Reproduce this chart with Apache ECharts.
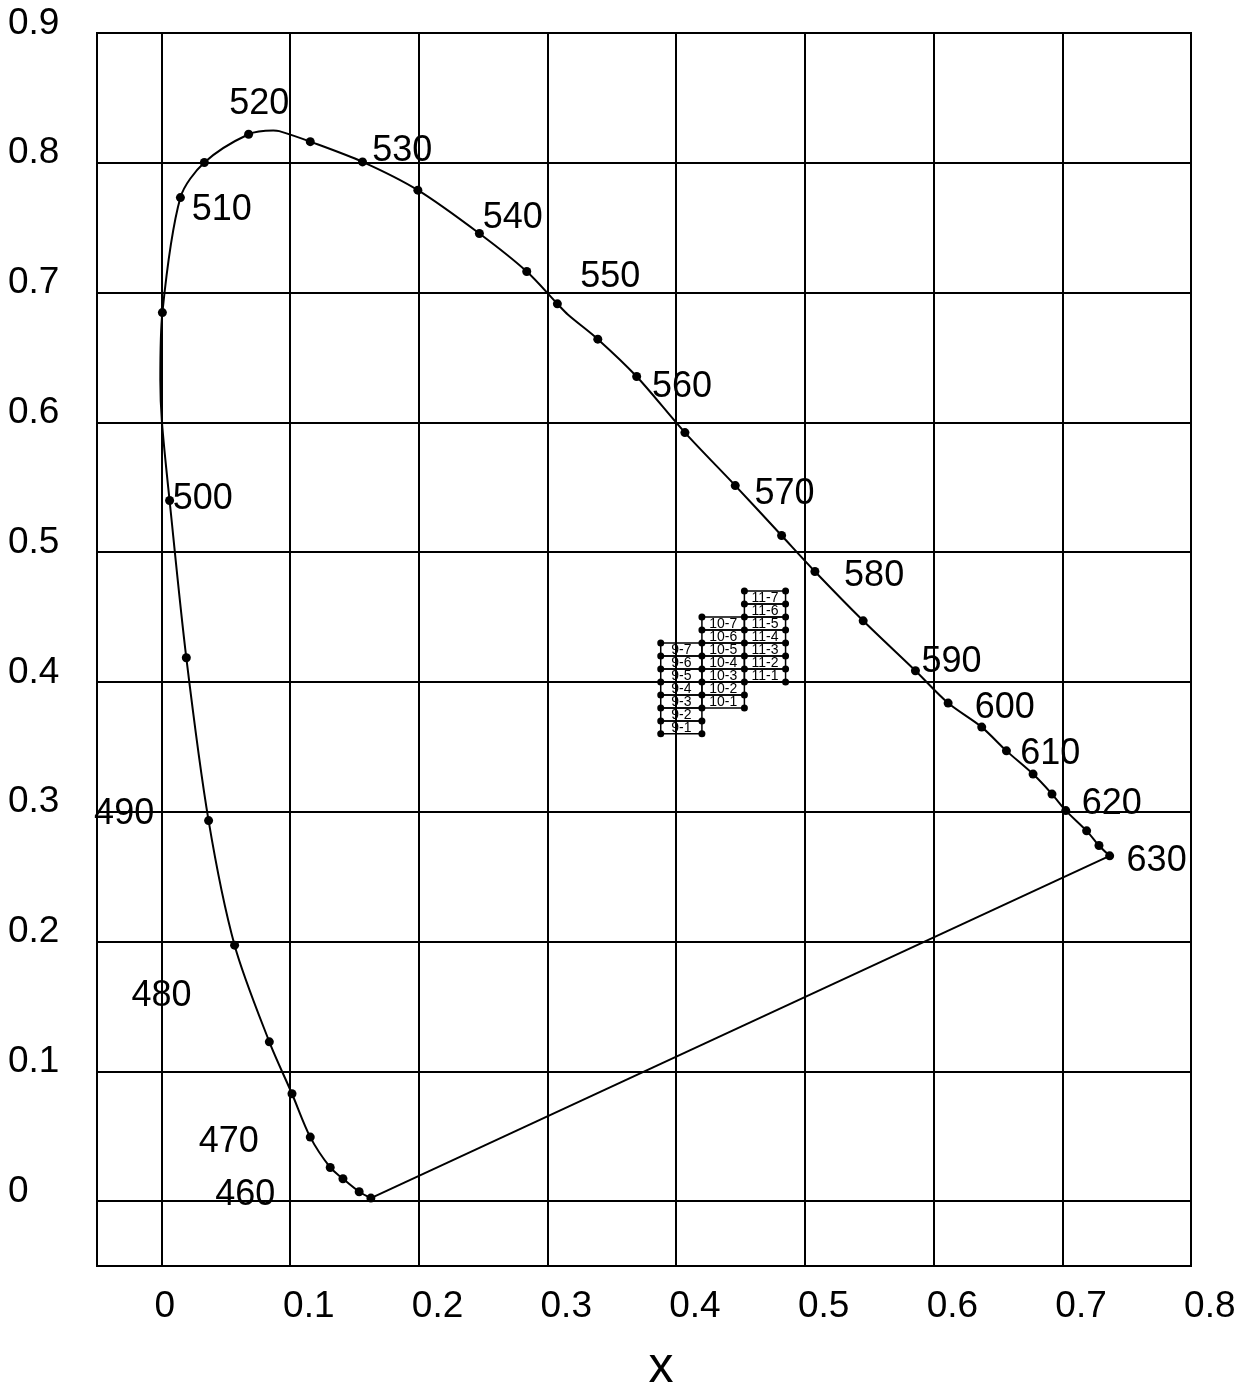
<!DOCTYPE html>
<html><head><meta charset="utf-8">
<script src="https://cdn.jsdelivr.net/npm/echarts@6/dist/echarts.min.js"></script>
<style>html,body{margin:0;padding:0;background:#fff}#c{width:1252px;height:1387px}</style>
</head><body><div id="c"></div>
<script>
// Tick labels
const xTickValues = [0, 0.1, 0.2, 0.3, 0.4, 0.5, 0.6, 0.7, 0.8];
const yTickValues = [0, 0.1, 0.2, 0.3, 0.4, 0.5, 0.6, 0.7, 0.8, 0.9];

// Spectral locus marker dots (x, y)
const dotX = [0.1628,0.1537,0.1411,0.1312,0.1157,0.1015,0.0839,0.0569,0.0367,0.0194,0.0064,0.0008,0.0148,0.0334,0.0678,0.1157,0.1563,0.1993,0.2471,0.2839,0.3077,0.3391,0.3693,0.4068,0.4459,0.4819,0.5078,0.5453,0.5859,0.6113,0.6374,0.6566,0.6773,0.6920,0.7027,0.7189,0.7285,0.7368];
const dotY = [0.0023,0.0072,0.0172,0.0259,0.0493,0.0827,0.1227,0.1972,0.2932,0.4186,0.5398,0.6846,0.7732,0.8002,0.8220,0.8163,0.8007,0.7789,0.7455,0.7162,0.6913,0.6641,0.6353,0.5921,0.5513,0.5128,0.4851,0.4471,0.4086,0.3837,0.3652,0.3469,0.3290,0.3136,0.3009,0.2853,0.2740,0.2660];

// Locus curve path (dots plus a few extra points)
const curveX = [0.1628,0.1537,0.1411,0.1312,0.1157,0.1015,0.0839,0.0569,0.0367,0.0194,0.0064,0.0005,-0.0008,0.0008,0.0148,0.0334,0.0678,0.0870,0.0916,0.1157,0.1563,0.1993,0.2471,0.2839,0.3077,0.3160,0.3391,0.3693,0.4068,0.4459,0.4819,0.5078,0.5453,0.5859,0.6113,0.6374,0.6566,0.6773,0.6920,0.7027,0.7189,0.7285,0.7368];
const curveY = [0.0023,0.0072,0.0172,0.0259,0.0493,0.0827,0.1227,0.1972,0.2932,0.4186,0.5398,0.5996,0.6327,0.6846,0.7732,0.8002,0.8220,0.8249,0.8244,0.8163,0.8007,0.7789,0.7455,0.7162,0.6913,0.6829,0.6641,0.6353,0.5921,0.5513,0.5128,0.4851,0.4471,0.4086,0.3837,0.3652,0.3469,0.3290,0.3136,0.3009,0.2853,0.2740,0.2660];

// Purple line (630 -> 460)
const closeX = [0.7368, 0.1628];
const closeY = [0.2660, 0.0023];

// Wavelength annotations
const wlText = ['460','470','480','490','500','510','520','530','540','550','560','570','580','590','600','610','620','630'];
const wlX = [0.0652,0.0523,0.0002,-0.0289,0.0322,0.0470,0.0761,0.1871,0.2731,0.3488,0.4045,0.4841,0.5538,0.6139,0.6553,0.6906,0.7384,0.7733];
const wlY = [0.0064,0.0468,0.1596,0.2995,0.5422,0.7653,0.8468,0.8109,0.7593,0.7135,0.6287,0.5462,0.4831,0.4166,0.3816,0.3458,0.3075,0.2639];

// Bins
const binNames = ['9-1','9-2','9-3','9-4','9-5','9-6','9-7','10-1','10-2','10-3','10-4','10-5','10-6','10-7','11-1','11-2','11-3','11-4','11-5','11-6','11-7'];
const binX0 = [0.388,0.388,0.388,0.388,0.388,0.388,0.388,0.420,0.420,0.420,0.420,0.420,0.420,0.420,0.453,0.453,0.453,0.453,0.453,0.453,0.453];
const binX1 = [0.420,0.420,0.420,0.420,0.420,0.420,0.420,0.453,0.453,0.453,0.453,0.453,0.453,0.453,0.485,0.485,0.485,0.485,0.485,0.485,0.485];
const binY0 = [0.36,0.37,0.38,0.39,0.40,0.41,0.42,0.38,0.39,0.40,0.41,0.42,0.43,0.44,0.40,0.41,0.42,0.43,0.44,0.45,0.46];
const binY1 = [0.37,0.38,0.39,0.40,0.41,0.42,0.43,0.39,0.40,0.41,0.42,0.43,0.44,0.45,0.41,0.42,0.43,0.44,0.45,0.46,0.47];

const FONT = '"Liberation Sans", Arial, sans-serif';
const fmtTick = v => {
  const r = Math.round(v * 10);
  if (Math.abs(v * 10 - r) > 1e-6 || r < 0) return '';
  return r === 0 ? '0' : (r / 10).toFixed(1);
};

const corners = [];
const seen = {};
binNames.forEach((n, i) => {
  [[binX0[i], binY0[i]], [binX0[i], binY1[i]], [binX1[i], binY0[i]], [binX1[i], binY1[i]]].forEach(p => {
    const k = p[0].toFixed(4) + ',' + p[1].toFixed(4);
    if (!seen[k]) { seen[k] = 1; corners.push(p); }
  });
});

const chart = echarts.init(document.getElementById('c'), null, {renderer: 'canvas'});
chart.setOption({
  animation: false,
  backgroundColor: '#fff',
  grid: {left: 97, right: 61, top: 33, bottom: 121, outerBoundsMode: 'none', containLabel: false,
         show: true, borderColor: '#000', borderWidth: 2, backgroundColor: 'transparent'},
  xAxis: [{
    type: 'value', min: -0.05, max: 0.8, interval: 0.05,
    axisLine: {show: false}, axisTick: {show: false}, axisLabel: {show: false},
    splitLine: {show: true, lineStyle: {color: ['rgba(0,0,0,0)', '#000'], width: 2}},
    name: 'x', nameLocation: 'middle', nameGap: 77,
    nameTextStyle: {fontSize: 50, fontFamily: FONT, color: '#000', padding: [0, 0, 0, 34]}
  }, {
    type: 'value', min: -0.05 + 0.0054, max: 0.8 + 0.0054, position: 'bottom',
    axisLine: {show: false}, axisTick: {show: false}, splitLine: {show: false},
    axisLabel: {customValues: xTickValues, align: 'left', margin: 22, fontSize: 37, fontFamily: FONT, color: '#000', formatter: fmtTick}
  }],
  yAxis: {
    type: 'value', min: -0.05, max: 0.9, interval: 0.05,
    axisLine: {show: false}, axisTick: {show: false},
    splitLine: {show: true, lineStyle: {color: ['rgba(0,0,0,0)', '#000'], width: 2}},
    axisLabel: {align: 'left', margin: 89, fontSize: 37, fontFamily: FONT, color: '#000', verticalAlign: 'bottom', lineHeight: 19, formatter: fmtTick}
  },
  series: [
    {
      type: 'line', data: curveX.map((x, i) => [x, curveY[i]]), smooth: 0.3,
      showSymbol: false, lineStyle: {color: '#000', width: 2}, silent: true, z: 3
    },
    {
      type: 'line', data: closeX.map((x, i) => [x, closeY[i]]),
      showSymbol: false, lineStyle: {color: '#000', width: 2}, silent: true, z: 3
    },
    {
      type: 'scatter', data: dotX.map((x, i) => [x, dotY[i]]), symbol: 'circle', symbolSize: 9,
      itemStyle: {color: '#000', opacity: 1}, silent: true, z: 5
    },
    {
      type: 'custom', silent: true, z: 4,
      encode: {x: [0, 1], y: [2, 3]},
      data: binNames.map((n, i) => [binX0[i], binX1[i], binY0[i], binY1[i]]),
      renderItem: (params, api) => {
        const p0 = api.coord([api.value(0), api.value(3)]);
        const p1 = api.coord([api.value(1), api.value(2)]);
        return {type: 'group', children: [
          {type: 'rect', shape: {x: p0[0], y: p0[1], width: p1[0] - p0[0], height: p1[1] - p0[1]},
           style: {fill: 'none', stroke: '#000', lineWidth: 1.5}},
          {type: 'text', style: {text: binNames[params.dataIndex], x: (p0[0] + p1[0]) / 2, y: (p0[1] + p1[1]) / 2 + 1,
           align: 'center', verticalAlign: 'middle', fontSize: 14, fontFamily: FONT, fill: '#000'}}
        ]};
      }
    },
    {
      type: 'scatter', data: corners, symbol: 'circle', symbolSize: 7,
      itemStyle: {color: '#000', opacity: 1}, silent: true, z: 6
    },
    {
      type: 'scatter', symbolSize: 0, silent: true, z: 7,
      itemStyle: {opacity: 1},
      data: wlText.map((t, i) => ({name: t, value: [wlX[i], wlY[i]]})),
      label: {show: true, position: 'inside', offset: [0, 2], formatter: '{b}', fontSize: 36, fontFamily: FONT, color: '#000', opacity: 1}
    }
  ]
});
</script></body></html>
